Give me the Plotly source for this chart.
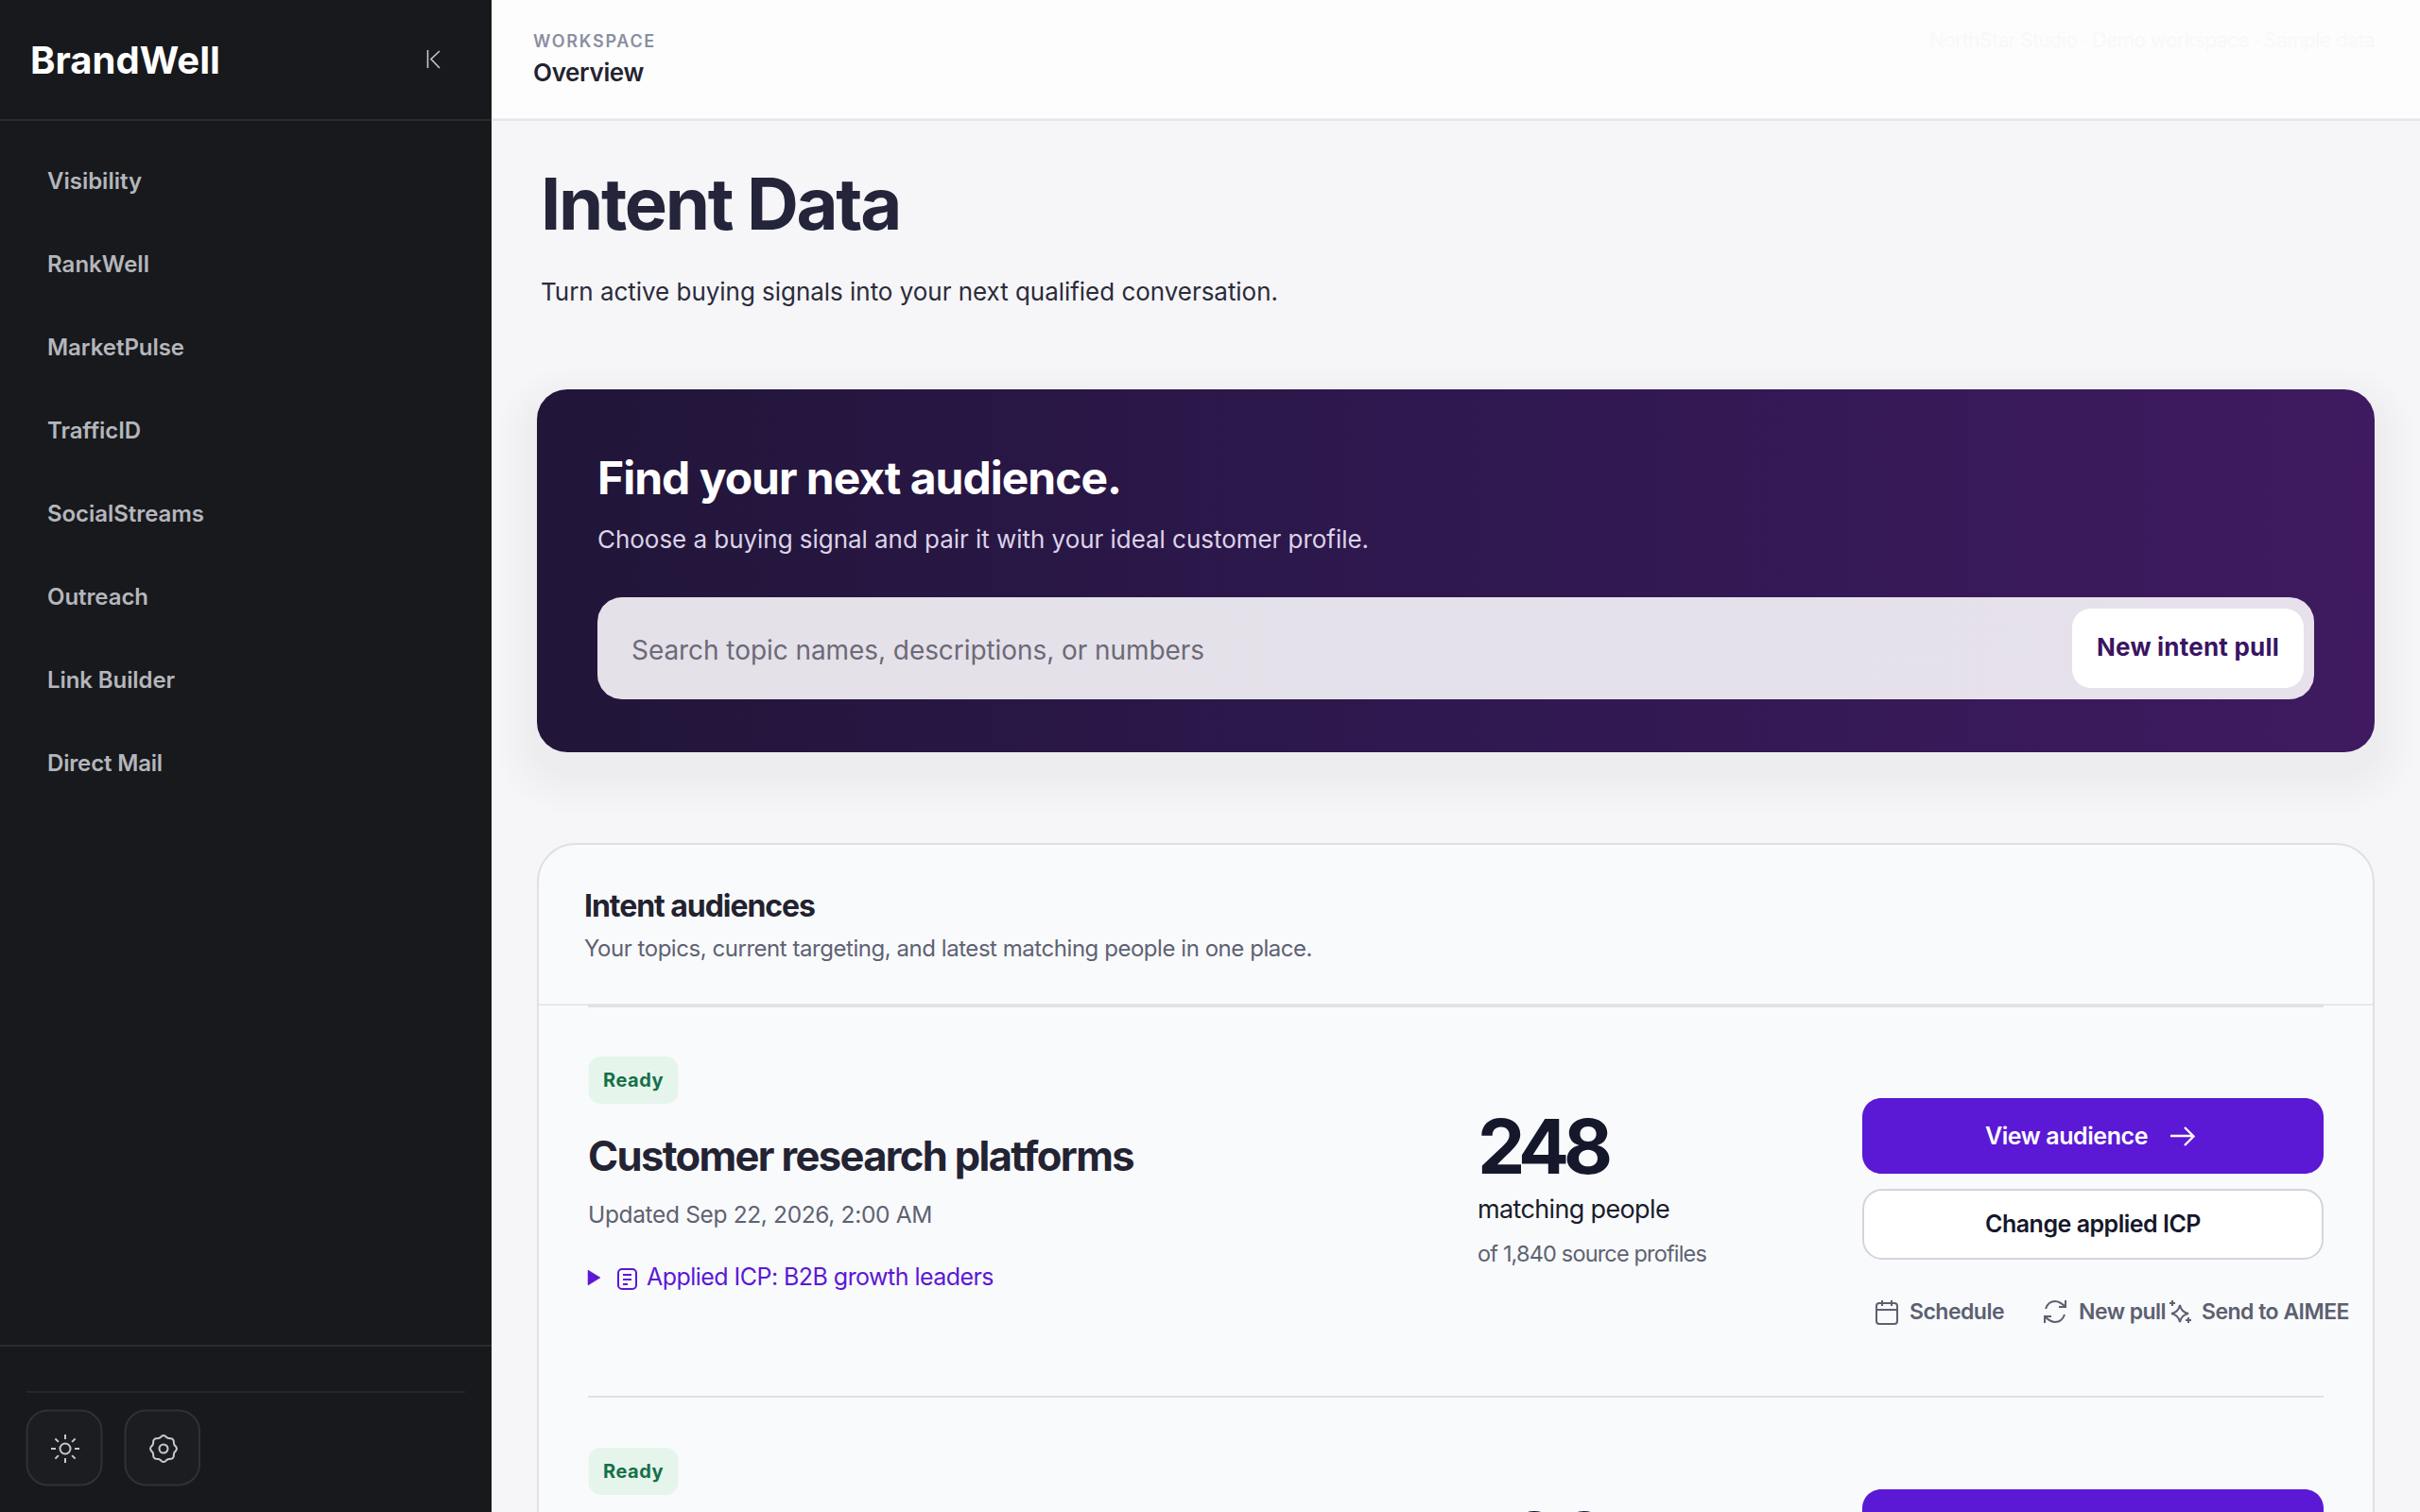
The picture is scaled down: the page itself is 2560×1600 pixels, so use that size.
import json
import numpy as np
import plotly.graph_objects as go

W, H = 2560, 1600
FONT = "Inter"

# ---- content ----
brand = "BrandWell"
nav_labels = ["Visibility", "RankWell", "MarketPulse", "TrafficID", "SocialStreams", "Outreach", "Link Builder", "Direct Mail"]
nav_widths = [100, 108, 145, 99, 166, 107, 135, 122]
crumb_label = "WORKSPACE"
crumb_title = "Overview"
faint_note = "NorthStar Studio · Demo workspace · Sample data"
page_title = "Intent Data"
page_sub = "Turn active buying signals into your next qualified conversation."
hero_title = "Find your next audience."
hero_sub = "Choose a buying signal and pair it with your ideal customer profile."
search_hint = "Search topic names, descriptions, or numbers"
search_btn = "New intent pull"
panel_title = "Intent audiences"
panel_sub = "Your topics, current targeting, and latest matching people in one place."
status_labels = ["Ready", "Ready"]
audience_names = ["Customer research platforms"]
audience_updated = ["Updated Sep 22, 2026, 2:00 AM"]
audience_icp = ["Applied ICP: B2B growth leaders"]
audience_counts = ["248", "186"]
audience_sources = ["of 1,840 source profiles"]

# ---- colours ----
SIDE, SIDE_LINE = "#18191c", "#2b2c30"
BG, PANEL, LINE = "#f6f6f9", "#f9fafc", "#e0e1e6"
PURPLE, INK, GREY = "#5b18d5", "#15172a", "#5e6272"

shapes, texts = [], []


def rr_path(x0, y0, x1, y1, r):
    k = r * 0.4477
    return (f"M{x0+r},{y0} H{x1-r} C{x1-k},{y0} {x1},{y0+k} {x1},{y0+r} "
            f"V{y1-r} C{x1},{y1-k} {x1-k},{y1} {x1-r},{y1} "
            f"H{x0+r} C{x0+k},{y1} {x0},{y1-k} {x0},{y1-r} "
            f"V{y0+r} C{x0},{y0+k} {x0+k},{y0} {x0+r},{y0} Z")


def rr(x0, y0, x1, y1, r, fill, line=None, lw=2, layer="below"):
    shapes.append(dict(type="path", path=rr_path(x0, y0, x1, y1, r), fillcolor=fill,
                       line=dict(color=line or "rgba(0,0,0,0)", width=lw if line else 0), layer=layer))


def box(x0, y0, x1, y1, fill, layer="below"):
    shapes.append(dict(type="rect", x0=x0, y0=y0, x1=x1, y1=y1, fillcolor=fill, line=dict(width=0), layer=layer))


def stroke(path, color, lw=2.0, fill=None):
    shapes.append(dict(type="path", path=path, fillcolor=fill or "rgba(0,0,0,0)",
                       line=dict(color=color, width=lw), layer="above"))


def text(x, y, s, size, color, weight=400, width=None):
    texts.append((x, y, s, size, color, weight, width))


def rr_points(x0, y0, x1, y1, r):
    t = np.linspace(0, np.pi / 2, 24)
    xs = np.concatenate([x1 - r + r * np.sin(t), x1 - r + r * np.cos(t), x0 + r - r * np.sin(t), x0 + r - r * np.cos(t)])
    ys = np.concatenate([y0 + r - r * np.cos(t), y1 - r + r * np.sin(t), y1 - r + r * np.cos(t), y0 + r - r * np.sin(t)])
    return np.append(xs, xs[0]), np.append(ys, ys[0])


# ---- page frame ----
box(0, 0, W, H, BG)
box(520, 0, W, 126, "#fdfdfe")
box(520, 125.5, W, 128, "#e5e6ea")
box(0, 0, 520, H, SIDE)
box(0, 126, 520, 128, SIDE_LINE)
box(0, 1423, 520, 1425, SIDE_LINE)
box(28, 1472, 492, 1474, "#26272b")
rr(28.5, 1492.5, 107.5, 1571.5, 22, "#1c1d21", "#303135")
rr(132.5, 1492.5, 211, 1571.5, 22, "#1c1d21", "#303135")

# ---- sidebar ----
text(32, 63, brand, 40, "#ffffff", 700, 201)
stroke("M452.5,53 V72 M465,54 L456,62.5 L465,72", "#c4c5ca", 1.6)
for i, (lab, wd) in enumerate(zip(nav_labels, nav_widths)):
    text(50, 191.6 + 88 * i, lab, 24, "#b4b6bc", 600, wd)

ICON = "#c8c9ce"
shapes.append(dict(type="circle", x0=63.5, y0=1527.5, x1=74.5, y1=1538.5, line=dict(color=ICON, width=2), layer="above"))
for a in np.arange(0, 2 * np.pi, np.pi / 4):
    c, s_ = np.cos(a), np.sin(a)
    stroke(f"M{69+10*c:.1f},{1533+10*s_:.1f} L{69+15*c:.1f},{1533+15*s_:.1f}", ICON, 2)
shapes.append(dict(type="circle", x0=168.5, y0=1528.5, x1=177.5, y1=1537.5, line=dict(color=ICON, width=2), layer="above"))
gt = np.linspace(0, 2 * np.pi, 97)
gr = 13 + 0.9 * np.cos(8 * gt)
stroke("M" + " L".join(f"{173+r*np.cos(t):.1f},{1533+r*np.sin(t):.1f}" for r, t in zip(gr, gt)) + " Z", ICON, 2)

# ---- header ----
text(564, 43.5, crumb_label, 18, "#8a8fa0", 600, 130)
text(564, 77, crumb_title, 26, "#23232f", 600, 117)
text(2041, 43, faint_note, 21, "#f8f8fa", 400, 471)

# ---- page heading ----
text(572, 215.5, page_title, 76, "#24243a", 700, 380)
text(572, 308, page_sub, 26, "#2b2b3a", 400, 780)

# ---- hero ----
for i in range(9):
    g = 44 - i * 5
    rr(568 - g, 412 - g + 20, 2512 + g, 796 + g + 20, 32 + g, "rgba(48,28,88,0.0045)")
text(631.5, 505, hero_title, 48, "#ffffff", 700, 554)
text(632, 570.5, hero_sub, 26, "#dcd3e8", 400, 816)
text(668, 688, search_hint, 28, "#6c6a78", 400, 606)
text(2218, 684, search_btn, 26, "#3a1463", 700, 193)
hx, hy = rr_points(568, 412, 2512, 796, 32)
sx, sy = rr_points(632, 632, 2448, 740, 26)

# ---- panel ----
rr(569, 893, 2511, 1720, 40, PANEL, "#dfe0e5", 2)
box(570, 1062.5, 2510, 1064, LINE)
box(622, 1062.5, 2458, 1066, LINE)
text(618, 958, panel_title, 32, "#22222f", 700, 244)
text(618, 1003.5, panel_sub, 24, GREY, 400, 770)

# ---- audience rows ----
ROW = 414
for i, (lab, cnt) in enumerate(zip(status_labels, audience_counts)):
    o = ROW * i
    rr(622.5, 1118 + o, 717.5, 1168 + o, 13, "#e6f5ec")
    text(638, 1143 + o, lab, 20, "#15704a", 700, 64)
    text(1563, 1212 + o + 2.5 * i, cnt, 80, INK, 700, 137)
    rr(1970, 1162 + o, 2458, 1242 + o, 20, PURPLE)

for name, upd, icp, src in zip(audience_names, audience_updated, audience_icp, audience_sources):
    text(622, 1223, name, 43.5, "#232333", 700, 577)
    text(622, 1285, upd, 24.5, GREY, 400, 364)
    text(684, 1351, icp, 25, PURPLE, 400, 367)
    text(1563, 1279, "matching people", 27, "#1a1c2b", 400, 203)
    text(1563, 1326, src, 23.5, GREY, 400, 242)
    text(2100, 1202, "View audience", 25, "#ffffff", 600, 172)
    text(2100, 1295, "Change applied ICP", 25, INK, 600, 228)
    text(2020, 1388, "Schedule", 23, "#5c6070", 600, 100)
    text(2199, 1388, "New pull", 23, "#5c6070", 600, 92)
    text(2329, 1388, "Send to AIMEE", 23, "#5c6070", 600, 156)

box(622, 1477, 2458, 1479, LINE)
rr(1971, 1259, 2457, 1332, 20, "#ffffff", "#d4d5dc", 2)

stroke("M622,1344 L635,1352 L622,1360 Z", PURPLE, 0.5, PURPLE)
stroke(rr_path(654, 1343, 673, 1364, 4), PURPLE, 2)
stroke("M659,1349 H668 M659,1354 H668 M659,1359 H664", PURPLE, 2)
stroke("M2296,1202 H2320 M2311,1193 L2320.5,1202.5 L2311,1212", "#ffffff", 2.4)

A = "#5c6070"
stroke(rr_path(1985, 1379, 2007, 1401, 3), A, 2)
stroke("M1985,1386 H2007 M1991,1376 V1382 M2001,1376 V1382", A, 2)
stroke("M2164,1385 C2166,1379 2170,1377 2174,1377 C2179,1377 2182,1380 2185,1383 M2185,1376 V1383 H2178 "
       "M2184,1391 C2182,1397 2178,1399 2174,1399 C2169,1399 2166,1396 2163,1393 M2163,1400 V1393 H2170", A, 2)
stroke("M2306,1381 C2307,1386 2310,1389 2315,1390 C2310,1391 2307,1394 2306,1399 "
       "C2305,1394 2302,1391 2297,1390 C2302,1389 2305,1386 2306,1381 Z", A, 2)
stroke("M2298,1376 V1382 M2295,1379 H2301 M2315,1394 V1400 M2312,1397 H2318", A, 2)

# ---- figure ----
fig = go.Figure()
fig.add_trace(go.Scatter(x=hx, y=hy, mode="lines", fill="toself", line=dict(width=0), hoverinfo="skip", showlegend=False,
                         fillgradient=dict(type="horizontal", colorscale=[[0, "#211538"], [0.5, "#2f1850"], [1, "#3f1a60"]])))
fig.add_trace(go.Scatter(x=sx, y=sy, mode="lines", fill="toself", line=dict(width=0), hoverinfo="skip", showlegend=False,
                         fillgradient=dict(type="horizontal", colorscale=[[0, "#e4e1e9"], [1, "#e6e1eb"]])))
rr(2192, 644, 2437, 728, 20, "#ffffff", layer="above")

# Paper-referenced y keeps the page-cut second row count from being dropped by the axis range.
annotations = [dict(x=x / W, y=1 - y / H, xref="paper", yref="paper", text=s, showarrow=False, xanchor="left", yanchor="middle",
                    align="left", borderpad=0, borderwidth=0, font=dict(family=FONT, size=sz, color=c, weight=w))
               for x, y, s, sz, c, w, _ in texts]

fig.update_layout(width=W, height=H, margin=dict(l=0, r=0, t=0, b=0), paper_bgcolor=BG, plot_bgcolor=BG,
                  xaxis=dict(range=[0, W], visible=False, fixedrange=True),
                  yaxis=dict(range=[H, 0], visible=False, fixedrange=True),
                  shapes=shapes, annotations=annotations, showlegend=False)

target_widths = json.dumps([t[6] for t in texts])
post = """
document.documentElement.style.margin='0';document.body.style.margin='0';document.body.style.overflow='hidden';
var tw=%s;
document.querySelectorAll('.annotation-text').forEach(function(el,i){
  if(!tw[i]) return;
  var n=el.textContent.length, w=el.getComputedTextLength();
  el.style.letterSpacing=((tw[i]-w)/n).toFixed(3)+'px';
});
""" % target_widths
fig.write_html("out.html", post_script=post, config=dict(displayModeBar=False))
